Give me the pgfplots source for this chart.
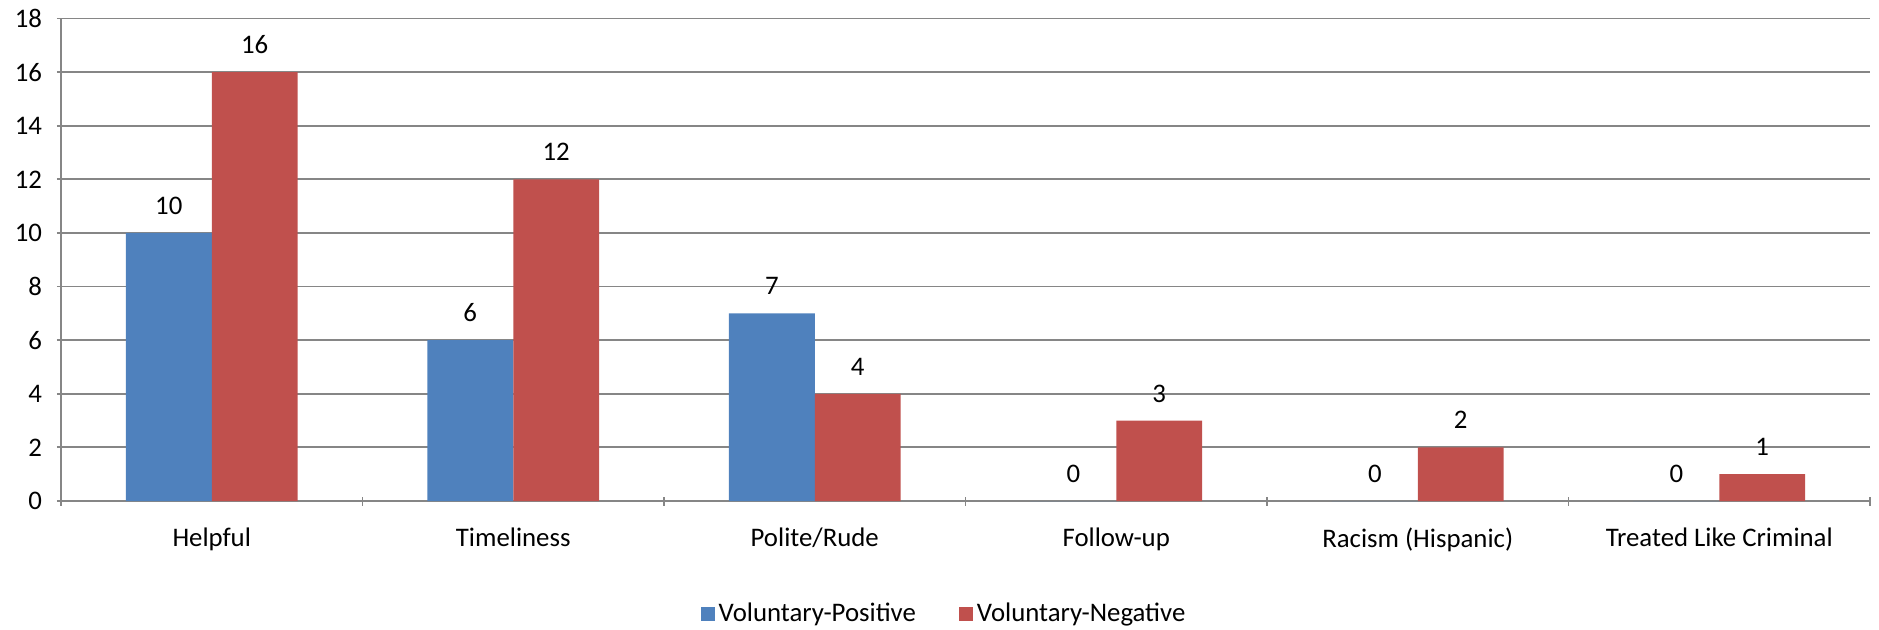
\documentclass[border=0pt]{standalone}
\usepackage{pgfplots}
\pgfplotsset{compat=1.18}
\usepackage{fontspec}
\setmainfont{Carlito}
\definecolor{vpos}{HTML}{4F81BD}
\definecolor{vneg}{HTML}{C0504D}
\definecolor{gridgray}{HTML}{868686}
\newcommand\cf{\fontsize{13.4pt}{16pt}\selectfont}

\begin{document}
\begin{tikzpicture}
\useasboundingbox (-30.5pt,-64pt) rectangle (909pt,250.5pt);
\begin{axis}[
  scale only axis,
  width=904.5pt, height=241.25pt,
  ybar=0pt, bar width=0.285,
  xmin=-0.5, xmax=5.5, ymin=0, ymax=18,
  ytick={0,2,...,18},
  xtick={0,...,5},
  xticklabels={Helpful,Timeliness,Polite/Rude,Follow-up,Racism (Hispanic),Treated Like Criminal},
  minor xtick={-0.5,0.5,...,5.5},
  major x tick style={draw=none},
  tick align=outside,
  major tick length=4pt, minor tick length=4.5pt,
  axis x line=bottom, axis y line=left,
  axis line style={-, gridgray, line width=1pt},
  every tick/.style={gridgray, line width=0.9pt},
  ymajorgrids,
  major grid style={gridgray, line width=0.9pt},
  tick label style={font=\cf, text=black},
  /pgf/number format/assume math mode=true,
  yticklabel style={xshift=-4pt},
  xticklabel style={yshift=-8pt},
  nodes near coords,
  every node near coord/.append style={font=\cf, text=black, anchor=south, inner sep=0pt, yshift=9pt},
  legend style={at={(0.4887,-0.234)}, anchor=center, draw=none, font=\cf,
    legend columns=2, /tikz/every even column/.append style={column sep=19.5pt}},
  legend image code/.code={\fill[#1] (0pt,-3.5pt) rectangle (7pt,3.5pt);},
]
\addplot[fill=vpos, draw=none] coordinates {
  (0,10) (1,6) (2,7) (3,0) (4,0) (5,0)
};
\addplot[fill=vneg, draw=none] coordinates {
  (0,16) (1,12) (2,4) (3,3) (4,2) (5,1)
};
\legend{Voluntary-Positive,Voluntary-Negative}
\end{axis}
\end{tikzpicture}
\end{document}
